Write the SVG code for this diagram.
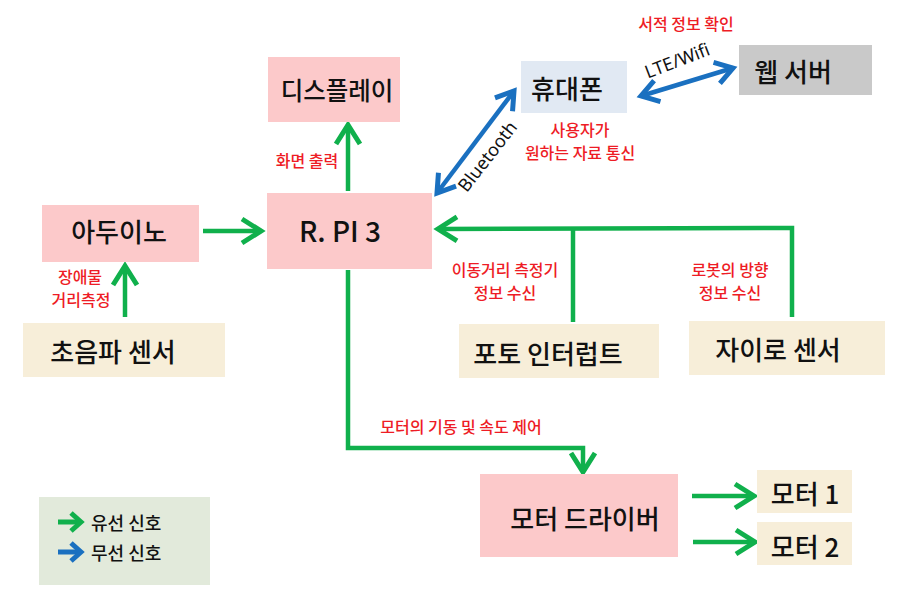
<svg xmlns="http://www.w3.org/2000/svg" width="907" height="605" viewBox="0 0 907 605">
<defs>
<style>
.pink{fill:#fcc9ca}
.beige{fill:#f7eed9}
.nt{font-family:"Noto Sans CJK KR","Noto Sans",sans-serif;font-size:26px;font-weight:500;fill:#111;text-anchor:middle;dominant-baseline:central}
.lb{font-family:"Noto Sans CJK KR","Noto Sans",sans-serif;font-size:16px;font-weight:500;fill:#ee1c25;text-anchor:middle;dominant-baseline:central}
.g{stroke:#10b04c;stroke-width:4.5;fill:none}
.b{stroke:#1a70c0;stroke-width:4.5;fill:none}
.lat{font-family:"Noto Sans","Liberation Sans",sans-serif;font-size:18px;fill:#111;text-anchor:middle;dominant-baseline:central}
</style>
<marker id="ag" markerUnits="userSpaceOnUse" markerWidth="30" markerHeight="30" viewBox="-24 -15 30 30" refX="0" refY="0" orient="auto-start-reverse">
<path d="M-19,-12 L0,0 L-19,12" fill="none" stroke="#10b04c" stroke-width="5" stroke-linejoin="miter"/>
</marker>
<marker id="ab" markerUnits="userSpaceOnUse" markerWidth="30" markerHeight="30" viewBox="-24 -15 30 30" refX="0" refY="0" orient="auto-start-reverse">
<path d="M-17,-11 L0,0 L-17,11" fill="none" stroke="#1a70c0" stroke-width="5" stroke-linejoin="miter"/>
</marker>
</defs>
<rect width="907" height="605" fill="#fff"/>

<g id="connectors">
<line class="g" x1="348" y1="191" x2="348" y2="125" marker-end="url(#ag)"/>
<line class="g" x1="203" y1="231" x2="261" y2="231" marker-end="url(#ag)"/>
<line class="g" x1="125" y1="317" x2="125" y2="266" marker-end="url(#ag)"/>
<polyline class="g" points="792,317 792,228 438,229" marker-end="url(#ag)"/>
<line class="g" x1="573" y1="322" x2="573" y2="228"/>
<polyline class="g" points="348,270 348,448 583,448 583,472" marker-end="url(#ag)"/>
<line class="g" x1="692" y1="496" x2="754" y2="496" marker-end="url(#ag)"/>
<line class="g" x1="693" y1="542" x2="755" y2="542" marker-end="url(#ag)"/>
<line class="b" x1="437" y1="193" x2="514" y2="91" marker-start="url(#ab)" marker-end="url(#ab)"/>
<line class="b" x1="641" y1="96" x2="733" y2="68" marker-start="url(#ab)" marker-end="url(#ab)"/>
</g>

<g id="display"><rect class="pink" x="268" y="57" width="132" height="65"/><text class="nt" x="337" y="89" style="font-size:24.5px">디스플레이</text></g>
<g id="phone"><rect fill="#e1e9f3" x="521" y="61" width="106" height="52"/><text class="nt" x="567" y="87">휴대폰</text></g>
<g id="webserver"><rect fill="#c9c9c9" x="739" y="45" width="133" height="50"/><text class="nt" x="793" y="70">웹 서버</text></g>
<g id="arduino"><rect class="pink" x="42" y="205" width="157" height="57"/><text class="nt" x="119" y="230">아두이노</text></g>
<g id="rpi"><rect class="pink" x="267" y="193" width="165" height="76"/><text class="nt" x="340" y="230" style="font-size:28px">R. PI 3</text></g>
<g id="ultrasonic"><rect class="beige" x="23" y="323" width="202" height="54"/><text class="nt" x="113" y="350">초음파 센서</text></g>
<g id="photo"><rect class="beige" x="459" y="324" width="200" height="54"/><text class="nt" x="548" y="352">포토 인터럽트</text></g>
<g id="gyro"><rect class="beige" x="689" y="321" width="196" height="54"/><text class="nt" x="778" y="348">자이로 센서</text></g>
<g id="motordriver"><rect class="pink" x="480" y="474" width="198" height="83"/><text class="nt" x="585" y="517">모터 드라이버</text></g>
<g id="motor1"><rect class="beige" x="757" y="470" width="95" height="43"/><text class="nt" x="805" y="492">모터 1</text></g>
<g id="motor2"><rect class="beige" x="757" y="522" width="95" height="43"/><text class="nt" x="805" y="545">모터 2</text></g>

<g id="legend">
<rect fill="#e2eadb" x="39" y="497" width="171" height="88"/>
<line x1="58" y1="522" x2="79" y2="522" stroke="#10b04c" stroke-width="5"/>
<path d="M71,513 L81,522 L71,531" fill="none" stroke="#10b04c" stroke-width="5"/>
<line x1="58" y1="552" x2="79" y2="552" stroke="#1a70c0" stroke-width="5"/>
<path d="M71,543 L81,552 L71,561" fill="none" stroke="#1a70c0" stroke-width="5"/>
<text x="91" y="522" font-family="'Noto Sans CJK KR',sans-serif" font-size="18" font-weight="500" fill="#111" dominant-baseline="central">유선 신호</text>
<text x="91" y="552" font-family="'Noto Sans CJK KR',sans-serif" font-size="18" font-weight="500" fill="#111" dominant-baseline="central">무선 신호</text>
</g>

<g id="labels">
<text class="lb" x="307" y="160">화면 출력</text>
<text class="lb" x="686" y="23">서적 정보 확인</text>
<text class="lb" x="580" y="129">사용자가</text>
<text class="lb" x="580" y="152">원하는 자료 통신</text>
<text class="lb" x="80" y="276">장애물</text>
<text class="lb" x="81" y="299">거리측정</text>
<text class="lb" x="505" y="269">이동거리 측정기</text>
<text class="lb" x="505" y="292">정보 수신</text>
<text class="lb" x="730" y="269">로봇의 방향</text>
<text class="lb" x="730" y="292">정보 수신</text>
<text class="lb" x="461" y="426">모터의 기동 및 속도 제어</text>
<text class="lat" x="677" y="60" transform="rotate(-21 677 60)">LTE/Wifi</text>
<text class="lat" x="487" y="156" transform="rotate(-52 487 156)">Bluetooth</text>
</g>
</svg>
